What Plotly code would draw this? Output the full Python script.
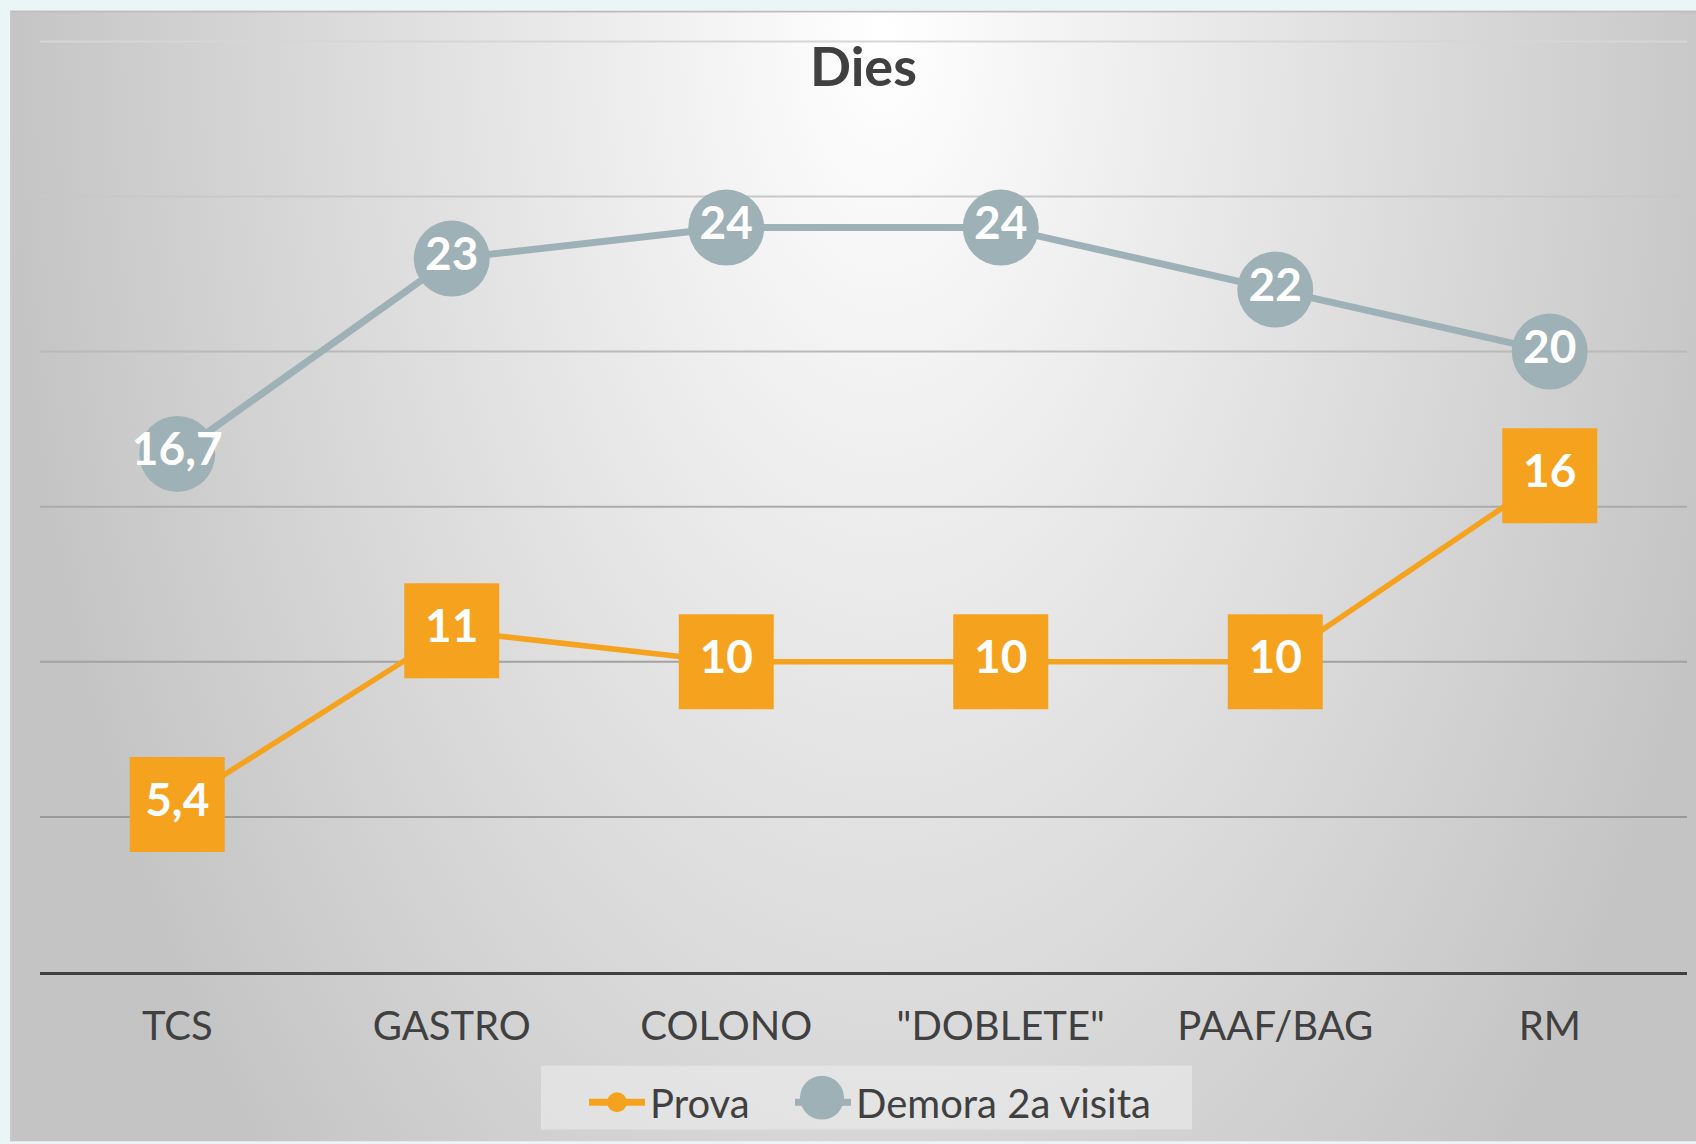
import base64
import plotly.graph_objects as go

categories = ["TCS", "GASTRO", "COLONO", "\"DOBLETE\"", "PAAF/BAG", "RM"]
prova = [5.4, 11, 10, 10, 10, 16]
demora = [16.7, 23, 24, 24, 22, 20]
prova_labels = ["5,4", "11", "10", "10", "10", "16"]
demora_labels = ["16,7", "23", "24", "24", "22", "20"]
grid_vals = [5, 10, 15, 20, 25, 30]
grid_colors = ["#9a9a9a", "#a2a2a2", "#ababab", "#bababa", "#c8c8c8", "#d6d6d6"]

ORANGE = "#F5A31F"
GRAY = "#9EB1B7"
TXT = "#404040"
FONT = "Lato"

W, H = 1696, 1144
YMAX = 30.4
PX_PER_UNIT = 933 / 30
BOTTOM = 974
L, R = 40, 9
T = BOTTOM - YMAX * PX_PER_UNIT
B = H - BOTTOM
pw, ph = W - L - R, H - T - B

def px_x(x):
    return (x - L) / pw

def px_y(y):
    return (BOTTOM - y) / ph

# radial gradient background for the chart frame
fx0, fy0 = 10, 10
fw, fh = W - fx0, H - fy0
svg = (
    f"<svg xmlns='http://www.w3.org/2000/svg' width='{fw}' height='{fh}' viewBox='0 0 {fw} {fh}' preserveAspectRatio='none'>"
    "<defs><radialGradient id='g' gradientUnits='userSpaceOnUse' cx='0' cy='0' r='1' "
    f"gradientTransform='translate({fw/2 + 30},20) scale(880,1600)'>"
    "<stop offset='0' stop-color='#ffffff'/><stop offset='1' stop-color='#c4c4c4'/>"
    "</radialGradient></defs>"
    f"<rect x='0' y='0' width='{fw}' height='{fh}' fill='url(#g)'/>"
    f"<line x1='0' y1='1' x2='{fw}' y2='1' stroke='#bdbdbd' stroke-width='2'/>"
    f"<line x1='1' y1='0' x2='1' y2='{fh}' stroke='#c8c8c8' stroke-width='2'/>"
    "</svg>"
)
src = "data:image/svg+xml;base64," + base64.b64encode(svg.encode()).decode()

fig = go.Figure()

fig.add_trace(go.Scatter(
    x=categories, y=demora, mode="lines+markers+text",
    text=demora_labels, textposition="middle center",
    textfont=dict(family=FONT, size=46, color="white", weight="bold"),
    line=dict(color=GRAY, width=7),
    marker=dict(symbol="circle", size=76, color=GRAY),
    showlegend=False, cliponaxis=False,
))
fig.add_trace(go.Scatter(
    x=categories, y=prova, mode="lines+markers+text",
    text=prova_labels, textposition="middle center",
    textfont=dict(family=FONT, size=46, color="white", weight="bold"),
    line=dict(color=ORANGE, width=5.5),
    marker=dict(symbol="square", size=95, color=ORANGE),
    showlegend=False, cliponaxis=False,
))
# legend entries
fig.add_trace(go.Scatter(
    x=[None], y=[None], mode="lines+markers", name="Prova", legend="legend",
    line=dict(color=ORANGE, width=7),
    marker=dict(symbol="circle", size=16, color=ORANGE, line=dict(color=ORANGE, width=4)),
))
fig.add_trace(go.Scatter(
    x=[None], y=[None], mode="lines+markers", name="Demora 2a visita", legend="legend2",
    line=dict(color=GRAY, width=7),
    marker=dict(symbol="circle", size=16, color=GRAY, line=dict(color=GRAY, width=5)),
))

LEG_Y = 1100
shapes = [dict(
    type="rect", xref="paper", yref="paper", layer="below",
    x0=px_x(541), x1=px_x(1192), y0=px_y(1068), y1=px_y(1132),
    fillcolor="rgba(238,238,238,0.55)", line=dict(width=0),
)]
for v, c in zip(grid_vals, grid_colors):
    shapes.append(dict(
        type="line", xref="paper", yref="y", layer="below",
        x0=0, x1=1, y0=v, y1=v, line=dict(color=c, width=2),
    ))
# enlarged legend symbol for "Demora 2a visita"
shapes.append(dict(
    type="circle", xref="paper", yref="paper", layer="above",
    x0=px_x(822 - 22), x1=px_x(822 + 22), y0=px_y(LEG_Y + 22), y1=px_y(LEG_Y - 22),
    fillcolor=GRAY, line=dict(width=0),
))

leg_common = dict(
    orientation="h", xanchor="left", y=px_y(1072), yanchor="top",
    bgcolor="rgba(0,0,0,0)",
    font=dict(family=FONT, size=40, color=TXT),
    itemwidth=56, borderwidth=0,
)

fig.update_layout(
    width=W, height=H,
    margin=dict(l=L, r=R, t=T, b=B),
    paper_bgcolor="#EAF6F5",
    plot_bgcolor="rgba(0,0,0,0)",
    images=[dict(
        source=src, xref="paper", yref="paper",
        x=px_x(fx0), y=px_y(fy0),
        sizex=fw / pw, sizey=fh / ph,
        xanchor="left", yanchor="top", sizing="stretch", layer="below",
    )],
    shapes=shapes,
    title=dict(
        text="<b>Dies</b>", x=0.5, xref="paper", xanchor="center",
        y=1 - 67 / H, yanchor="middle",
        font=dict(family=FONT, size=54, color=TXT),
    ),
    xaxis=dict(
        type="category", range=[-0.5, 5.5],
        showgrid=False, showline=True, linecolor=TXT, linewidth=3,
        ticks="outside", ticklen=17, tickcolor="rgba(0,0,0,0)",
        tickfont=dict(family=FONT, size=40, color=TXT),
        fixedrange=True,
    ),
    yaxis=dict(
        range=[0, YMAX], tickvals=grid_vals, showticklabels=False,
        showgrid=False, zeroline=False, fixedrange=True,
    ),
    legend=dict(x=px_x(584), **leg_common),
    legend2=dict(x=px_x(790), **leg_common),
)

fig.write_html(
    "out.html",
    config={"displayModeBar": False},
    post_script="document.body.style.margin='0px';document.body.style.background='#EAF6F5';",
)
